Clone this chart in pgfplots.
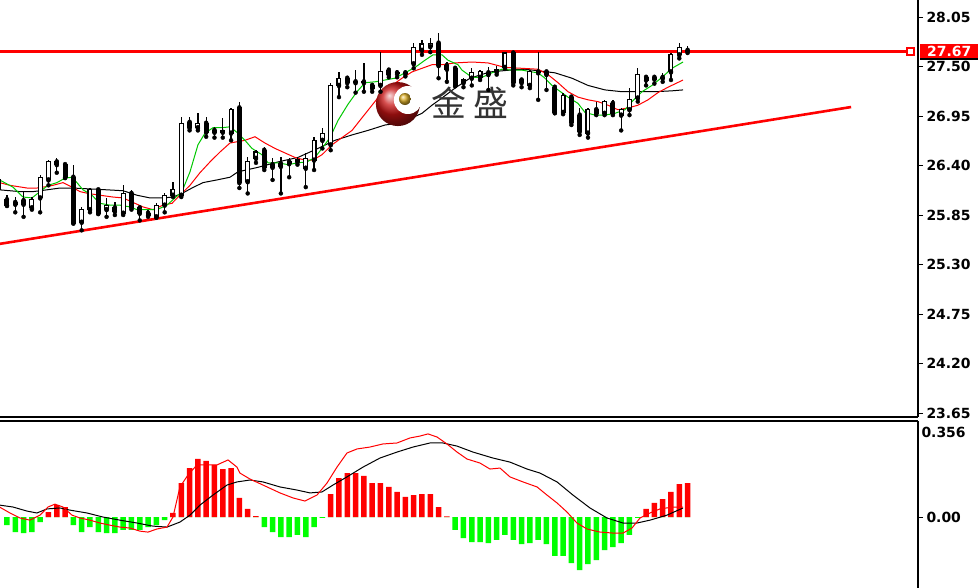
\documentclass[border=0pt]{standalone}
\usepackage{pgfplots}
\pgfplotsset{compat=1.18}
\usepackage{pgfplotstable}
\usepackage{fontspec}
\setmainfont{DejaVu Sans}
\newfontfamily\cjk{Noto Sans CJK SC}
\definecolor{mtred}{RGB}{255,0,0}
\definecolor{mtgreen}{RGB}{0,255,0}
\definecolor{magreen}{RGB}{0,200,0}
\definecolor{logored}{RGB}{200,20,20}
\definecolor{logogold}{RGB}{220,175,40}

% k open high low close
\pgfplotstableread{
k O H L C
-1 26.24 26.29 26.02 26.13
0 26.02 26.07 25.95 25.96
1 25.99 26.05 25.88 25.97
2 26.01 26.11 25.83 25.97
3 25.93 26.05 25.91 26.02
4 26.04 26.29 25.88 26.27
5 26.24 26.46 26.18 26.44
6 26.44 26.48 26.32 26.41
7 26.41 26.43 26.26 26.27
8 26.27 26.41 25.76 25.76
9 25.77 25.94 25.68 25.91
10 25.91 26.15 25.88 26.13
11 26.13 26.14 25.86 25.87
12 25.91 26.04 25.83 25.96
13 25.93 25.99 25.85 25.89
14 25.87 26.18 25.85 26.09
15 26.09 26.13 25.91 25.93
16 25.93 25.94 25.79 25.87
17 25.87 25.91 25.83 25.85
18 25.83 25.98 25.82 25.96
19 25.96 26.09 25.88 26.07
20 26.07 26.22 26.05 26.13
21 26.07 26.94 26.05 26.87
22 26.88 26.94 26.79 26.82
23 26.82 26.98 26.79 26.87
24 26.87 26.94 26.72 26.77
25 26.79 26.83 26.71 26.77
26 26.77 26.93 26.71 26.79
27 26.76 27.04 26.68 27.02
28 27.04 27.11 26.15 26.21
29 26.22 26.49 26.09 26.44
30 26.48 26.57 26.43 26.55
31 26.57 26.61 26.35 26.38
32 26.41 26.48 26.24 26.38
33 26.42 26.49 26.09 26.39
34 26.44 26.48 26.27 26.42
35 26.44 26.49 26.41 26.47
36 26.37 26.54 26.16 26.48
37 26.46 26.72 26.35 26.68
38 26.68 26.82 26.59 26.76
39 26.63 27.32 26.57 27.29
40 27.29 27.44 27.16 27.37
41 27.37 27.38 27.27 27.32
42 27.33 27.46 27.21 27.32
43 27.33 27.54 27.22 27.32
44 27.29 27.32 27.22 27.26
45 27.29 27.66 27.22 27.44
46 27.46 27.48 27.38 27.41
47 27.43 27.46 27.38 27.42
48 27.43 27.46 27.39 27.42
49 27.53 27.76 27.48 27.71
50 27.68 27.79 27.63 27.75
51 27.72 27.82 27.66 27.76
52 27.76 27.87 27.37 27.51
53 27.51 27.55 27.33 27.47
54 27.48 27.51 27.28 27.29
55 27.32 27.37 27.27 27.35
56 27.37 27.48 27.29 27.43
57 27.38 27.46 27.35 27.44
58 27.43 27.49 27.24 27.41
59 27.44 27.51 27.41 27.47
60 27.49 27.66 27.48 27.65
61 27.65 27.66 27.29 27.32
62 27.35 27.37 27.27 27.32
63 27.29 27.46 27.26 27.44
64 27.44 27.66 27.13 27.43
65 27.44 27.46 27.24 27.41
66 27.27 27.29 26.98 26.99
67 26.99 27.21 26.97 27.18
68 27.16 27.18 26.85 26.88
69 26.96 27.04 26.74 26.78
70 26.76 27.04 26.71 27.02
71 27.02 27.11 26.96 26.98
72 26.98 27.13 26.96 27.11
73 27.09 27.13 26.96 26.98
74 26.96 27.04 26.79 27.02
75 27.02 27.26 26.96 27.13
76 27.15 27.48 27.11 27.41
77 27.38 27.41 27.29 27.35
78 27.38 27.41 27.31 27.36
79 27.38 27.43 27.33 27.37
80 27.44 27.65 27.35 27.63
81 27.63 27.76 27.59 27.71
82 27.68 27.73 27.65 27.67
}\candles

% MACD histogram
\pgfplotstableread{
k v
0 -0.034
1 -0.063
2 -0.067
3 -0.063
4 -0.021
5 0.021
6 0.050
7 0.042
8 -0.034
9 -0.063
10 -0.042
11 -0.063
12 -0.067
13 -0.067
14 -0.054
15 -0.054
16 -0.054
17 -0.042
18 -0.034
19 -0.013
20 0.017
21 0.142
22 0.205
23 0.243
24 0.235
25 0.218
26 0.201
27 0.205
28 0.080
29 0.034
30 0.004
31 -0.042
32 -0.063
33 -0.084
34 -0.084
35 -0.075
36 -0.084
37 -0.042
38 -0.003
39 0.096
40 0.163
41 0.184
42 0.184
43 0.172
44 0.142
45 0.142
46 0.126
47 0.105
48 0.084
49 0.092
50 0.096
51 0.096
52 0.042
53 0.003
54 -0.054
55 -0.088
56 -0.105
57 -0.105
58 -0.109
59 -0.096
60 -0.075
61 -0.096
62 -0.113
63 -0.109
64 -0.096
65 -0.113
66 -0.163
67 -0.163
68 -0.193
69 -0.222
70 -0.197
71 -0.180
72 -0.138
73 -0.126
74 -0.109
75 -0.075
76 -0.003
77 0.034
78 0.059
79 0.075
80 0.105
81 0.138
82 0.142
}\macd

\begin{document}
\begin{tikzpicture}[x=1bp,y=1bp]
\path[use as bounding box, fill=white] (0bp,0bp) rectangle (980bp,-588bp);

\pgfplotsset{
  panel/.style={
    scale only axis, width=918bp,
    xmin=-0.84, xmax=109.76,
    axis y line*=right, xtick=\empty,
    axis line style={black, line width=1.2bp},
    tick align=outside, major tick length=5bp,
    tick style={black, line width=1bp},
    ticklabel style={font=\bfseries\fontsize{14}{14}\selectfont, text=black},
    clip=true,
  },
  body/.style={only marks, mark=none, forget plot,
    error bars/.cd, y dir=plus, y explicit, error mark=none},
}

% ---------- price panel ----------
\begin{axis}[panel,
  at={(0bp,0bp)}, anchor=north west, height=417bp,
  ymin=23.606, ymax=28.239,
  axis x line*=bottom,
  ytick={23.65,24.20,24.75,25.30,25.85,26.40,26.95,27.50,28.05},
  yticklabels={23.65,24.20,24.75,25.30,25.85,26.40,26.95,27.50,28.05},
]
  % support trend line and resistance level
  \addplot[mtred, line width=2.6bp] coordinates {(-0.84,25.53) (101.7,27.05)};
  \addplot[mtred, line width=2.6bp] coordinates {(-0.84,27.67) (108.9,27.67)};
  \addplot[mtred, only marks, mark=square*, mark size=3.6bp,
    mark options={fill=white, draw=mtred, line width=2bp}] coordinates {(108.9,27.67)};

  % moving averages
  \addplot[black, line width=1bp] coordinates {
    (-0.9,26.13) (1.57,26.11) (3.13,26.11) (4.82,26.13) (6.39,26.15) (7.95,26.15)
    (10.0,26.14) (12.05,26.13) (13.98,26.12) (15.66,26.07) (17.23,26.04) (18.8,26.04)
    (20.0,26.05) (21.08,26.09) (22.29,26.15) (23.61,26.21) (25.3,26.24) (26.87,26.27)
    (27.83,26.33) (30.24,26.38) (32.65,26.44) (35.06,26.49) (37.47,26.59) (39.52,26.68)
    (41.57,26.74) (43.49,26.79) (45.54,26.85) (47.11,26.87) (48.8,26.93) (50.0,26.98)
    (51.2,27.07) (52.41,27.15) (53.98,27.26) (55.78,27.37) (58.19,27.44) (60.6,27.46)
    (62.41,27.47) (66.02,27.43) (68.07,27.37) (70.0,27.29) (72.05,27.24) (74.1,27.22)
    (76.02,27.22) (78.07,27.22) (80.12,27.23) (81.45,27.24)};
  \addplot[mtred, line width=1bp] coordinates {
    (-0.9,26.21) (0.36,26.18) (2.41,26.15) (3.61,26.15) (4.34,26.16) (5.54,26.18)
    (6.75,26.21) (7.83,26.16) (8.8,26.11) (9.76,26.09) (11.2,26.07) (12.77,26.05)
    (13.98,26.04) (15.18,25.99) (16.39,25.94) (17.59,25.91) (18.8,25.96) (19.88,25.98)
    (20.84,26.07) (22.05,26.18) (23.25,26.32) (24.46,26.44) (25.66,26.55) (26.87,26.65)
    (27.47,26.66) (28.67,26.68) (29.88,26.72) (31.08,26.65) (32.29,26.59) (33.49,26.54)
    (34.7,26.49) (35.9,26.46) (36.87,26.46) (37.95,26.52) (39.16,26.63) (40.36,26.71)
    (41.57,26.79) (42.77,26.93) (43.98,27.07) (45.18,27.21) (46.39,27.29) (47.59,27.37)
    (48.8,27.44) (50.0,27.48) (51.2,27.52) (52.41,27.52) (53.98,27.54) (56.02,27.55)
    (57.95,27.54) (60.0,27.49) (62.05,27.48) (63.98,27.47) (65.18,27.41) (66.39,27.32)
    (67.59,27.22) (68.8,27.16) (70.0,27.13) (71.2,27.11) (72.41,27.07) (73.61,27.02)
    (74.82,27.04) (76.02,27.07) (77.23,27.13) (78.43,27.21) (79.64,27.27) (81.45,27.35)};
  \addplot[magreen, line width=1bp] coordinates {
    (-0.9,26.24) (0.72,26.16) (1.93,26.05) (3.01,26.04) (3.98,26.11) (4.94,26.18)
    (6.02,26.21) (6.99,26.26) (7.83,26.27) (8.43,26.21) (9.16,26.13) (10.24,26.07)
    (11.2,25.98) (12.41,25.96) (13.61,25.96) (14.82,25.94) (15.66,25.91) (16.87,25.91)
    (18.07,25.91) (19.28,25.96) (20.24,26.04) (21.08,26.11) (22.05,26.33) (23.01,26.63)
    (23.86,26.76) (24.82,26.82) (25.9,26.82) (26.87,26.83) (27.83,26.76) (28.67,26.68)
    (29.52,26.59) (30.72,26.52) (31.45,26.43) (32.65,26.43) (33.86,26.41) (35.06,26.43)
    (36.14,26.44) (37.11,26.49) (37.95,26.59) (38.92,26.71) (39.88,26.90) (41.08,27.08)
    (42.17,27.22) (43.13,27.32) (44.34,27.33) (45.54,27.35) (46.75,27.37) (47.95,27.43)
    (49.16,27.49) (50.36,27.57) (51.33,27.63) (52.41,27.63) (53.13,27.57) (54.34,27.52)
    (54.82,27.46) (56.02,27.38) (57.23,27.38) (58.43,27.43) (59.64,27.47) (60.84,27.46)
    (62.05,27.46) (63.25,27.44) (63.98,27.43) (64.82,27.37) (65.66,27.29) (66.39,27.24)
    (67.59,27.16) (68.8,27.09) (69.64,26.99) (70.84,26.96) (72.05,26.96) (73.25,26.98)
    (74.46,27.02) (75.3,27.11) (76.51,27.22) (77.71,27.29) (78.92,27.38) (80.12,27.48)
    (81.45,27.55)};

  % watermark logo
  \shade[ball color=logored] (axis cs:47.1,27.083) circle[radius=22bp];
  \fill[white] (axis cs:48.3,27.128) circle[radius=14bp];
  \shade[ball color=logogold] (axis cs:47.95,27.139) circle[radius=6bp];
  \node[text=black!80, font=\cjk\fontsize{35}{35}\selectfont, inner sep=0pt]
    at (axis cs:53.25,27.094) {金};
  \node[text=black!80, font=\cjk\fontsize{35}{35}\selectfont, inner sep=0pt]
    at (axis cs:58.3,27.094) {盛};

  % candlesticks: wick, body, hollow inside of rising candles
  \addplot[body, error bar style={line width=1.3bp, black}]
    table[x=k, y=L, y error expr=\thisrow{H}-\thisrow{L}] {\candles};
  \addplot[body, error bar style={line width=5bp, black}]
    table[x=k, y expr={min(\thisrow{O},\thisrow{C})-0.006},
          y error expr={abs(\thisrow{C}-\thisrow{O})+0.012}] {\candles};
  \addplot[body, error bar style={line width=2.8bp, white}]
    table[x=k, y expr={\thisrow{O}+0.006},
          y error expr={max(\thisrow{C}-\thisrow{O}-0.012,0)}] {\candles};

  \coordinate (lastprice) at (axis cs:109.76,27.67);
\end{axis}

\node[anchor=west, fill=mtred, text=white, inner sep=0pt, minimum height=15bp,
  minimum width=58bp, font=\bfseries\fontsize{14}{14}\selectfont] (lbl)
  at ([xshift=2bp]lastprice) {27.67};
\draw[black, line width=1.5bp] (lbl.south west) -- (lbl.south east);

% ---------- MACD panel ----------
\begin{axis}[panel,
  at={(0bp,-421bp)}, anchor=north west, height=167bp,
  ymin=-0.297, ymax=0.402,
  axis x line*=top,
  ytick={0}, yticklabels={0.00},
  extra y ticks={0.356}, extra y tick labels={0.356},
  extra y tick style={major tick length=0pt},
]
  \addplot[ybar, bar width=5.5bp, bar shift=0pt, fill=mtred, draw=none]
    table[x=k, y expr={max(\thisrow{v},0)}] {\macd};
  \addplot[ybar, bar width=5.5bp, bar shift=0pt, fill=mtgreen, draw=none]
    table[x=k, y expr={min(\thisrow{v},0)}] {\macd};

  \addplot[black, line width=1bp] coordinates {
    (-0.9,0.050) (0.72,0.042) (2.41,0.025) (3.61,0.017) (4.82,0.034) (6.39,0.038)
    (7.59,0.029) (9.64,0.017) (11.57,0.0) (13.61,-0.013) (15.66,-0.025) (17.59,-0.038)
    (19.28,-0.042) (20.84,-0.021) (22.05,0.008) (23.25,0.050) (24.82,0.092) (26.51,0.134)
    (27.71,0.147) (29.28,0.155) (30.84,0.147) (32.89,0.126) (34.94,0.113) (36.51,0.101)
    (37.95,0.105) (39.28,0.134) (40.96,0.168) (42.89,0.209) (44.94,0.247) (46.99,0.272)
    (48.92,0.293) (50.96,0.310) (52.53,0.310) (54.22,0.297) (56.14,0.272) (58.55,0.247)
    (60.6,0.230) (62.65,0.201) (64.22,0.184) (66.27,0.147) (68.19,0.092) (70.24,0.038)
    (72.29,-0.004) (74.22,-0.025) (75.9,-0.025) (77.47,-0.013) (79.52,0.008) (81.45,0.038)};
  \addplot[mtred, line width=1bp] coordinates {
    (-0.9,0.042) (0.36,0.017) (1.57,-0.004) (2.77,-0.013) (3.98,0.008) (4.94,0.042)
    (5.78,0.054) (6.75,0.042) (7.83,0.008) (8.8,-0.004) (10.0,-0.013) (11.2,-0.025)
    (12.41,-0.034) (13.61,-0.042) (14.82,-0.046) (16.02,-0.059) (16.99,-0.063) (18.07,-0.050)
    (19.28,-0.042) (20.0,0.0) (20.84,0.126) (21.81,0.176) (22.89,0.218) (24.1,0.218)
    (25.3,0.218) (26.63,0.239) (27.71,0.209) (28.07,0.184) (29.28,0.159) (30.84,0.134)
    (32.89,0.101) (34.46,0.080) (35.9,0.067) (37.35,0.092) (38.55,0.142) (39.76,0.209)
    (40.96,0.268) (42.17,0.285) (43.73,0.293) (45.3,0.306) (46.99,0.310) (48.55,0.331)
    (49.76,0.339) (50.72,0.348) (51.81,0.335) (53.01,0.306) (54.22,0.272) (55.42,0.243)
    (56.99,0.226) (58.19,0.201) (59.4,0.205) (60.6,0.168) (62.17,0.147) (63.86,0.126)
    (65.06,0.092) (66.27,0.059) (67.47,0.021) (68.67,-0.025) (69.88,-0.050) (71.45,-0.063)
    (73.01,-0.067) (74.22,-0.067) (75.3,-0.046) (76.27,-0.004) (77.47,0.017) (78.67,0.034)
    (80.24,0.042) (81.45,0.042)};
\end{axis}
\end{tikzpicture}
\end{document}
